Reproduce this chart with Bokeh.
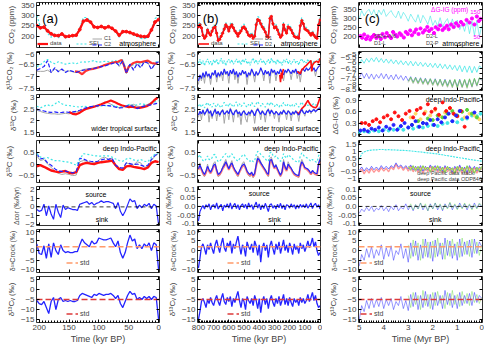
from bokeh.plotting import figure
from bokeh.layouts import gridplot
from bokeh.models import (Range1d, LinearAxis, FixedTicker, SingleIntervalTicker, Span, Label,
                          Legend, LegendItem, CustomJSTickFormatter)
from bokeh.core.properties import value
from bokeh.embed import file_html
from bokeh.resources import INLINE

FONT = "Liberation Sans"

# ---------------- column (a): 0-204 kyr BP ----------------
xa = [204, 198, 192, 186, 180, 174, 168, 162, 156, 150, 144, 138, 132, 126, 120, 114, 108, 102,
      96, 90, 84, 78, 72, 66, 60, 54, 48, 42, 36, 30, 24, 18, 12, 6, 0]
a_co2_data = [251, 240, 244, 226, 212, 204, 203, 211, 198, 200, 203, 205, 232, 272, 278, 268, 245, 242,
              247, 240, 246, 238, 225, 205, 222, 222, 218, 211, 205, 200, 198, 200, 230, 268, 280]
a_co2_sei = [300, 245, 248, 215, 195, 212, 190, 215, 192, 198, 200, 200, 240, 290, 290, 272, 248, 245,
             250, 242, 250, 240, 222, 195, 225, 225, 215, 205, 200, 190, 188, 192, 235, 285, 295]
a_co2_c1 = [250, 242, 246, 228, 210, 206, 200, 208, 199, 201, 202, 206, 236, 275, 278, 266, 246, 243,
            246, 241, 245, 236, 223, 206, 221, 223, 216, 210, 204, 198, 195, 194, 228, 266, 280]
a_co2_c2 = [248, 243, 245, 225, 208, 207, 198, 210, 197, 199, 201, 204, 234, 274, 280, 267, 244, 244,
            248, 239, 247, 237, 224, 204, 220, 224, 217, 209, 203, 197, 194, 196, 227, 265, 281]

a_d13co2_sei = [-6.60, -6.52, -6.40, -6.30, -6.42, -6.48, -6.40, -6.45, -6.50, -6.47, -6.45, -6.48,
                -6.42, -6.40, -6.42, -6.38, -6.35, -6.42, -6.40, -6.38, -6.40, -6.38, -6.35, -6.45,
                -6.30, -6.80, -6.50, -6.55, -6.45, -6.50, -6.38, -6.35, -6.50, -6.42, -6.38]
a_d13co2_c1 = [-6.80, -6.80, -6.80, -6.75, -6.85, -6.70, -6.78, -6.72, -6.80, -6.78, -6.82, -6.85,
               -6.78, -6.72, -6.70, -6.68, -6.65, -6.62, -6.58, -6.55, -6.50, -6.45, -6.40, -6.60,
               -6.35, -6.90, -6.55, -6.70, -6.50, -6.60, -6.42, -6.45, -6.70, -6.50, -6.42]
a_d13co2_c2 = [-6.75, -6.68, -6.60, -6.35, -6.85, -6.65, -6.82, -6.70, -6.85, -6.75, -6.80, -6.85,
               -6.80, -6.75, -6.72, -6.70, -6.68, -6.64, -6.60, -6.58, -6.52, -6.48, -6.42, -6.55,
               -6.36, -6.88, -6.50, -6.75, -6.48, -6.65, -6.40, -6.45, -6.72, -6.48, -6.40]
xa_d2 = [140, 134, 128, 122, 116, 110, 104, 98, 92, 86, 80, 74, 68, 62, 58, 54, 50, 46, 42, 36, 30,
         24, 18, 12, 6, 2]
a_d13co2_data = [-6.80, -6.82, -6.92, -6.78, -6.72, -6.70, -6.66, -6.62, -6.55, -6.50, -6.45, -6.42,
                 -6.40, -6.32, -6.55, -6.85, -6.60, -6.52, -6.45, -6.40, -6.42, -6.38, -6.35, -6.45,
                 -6.48, -6.45]

a_surf_sei = [2.62, 2.55, 2.62, 2.68, 2.62, 2.70, 2.82, 2.72, 2.66, 2.65, 2.62, 2.60, 2.58, 2.62,
              2.60, 2.58, 2.62, 2.60, 2.63, 2.65, 2.62, 2.66, 2.62, 2.58, 2.60, 2.66, 2.70, 2.64,
              2.68, 2.72, 2.70, 2.66, 2.72, 2.80, 2.85]
a_surf_c1 = [2.45, 2.40, 2.35, 2.32, 2.30, 2.30, 2.28, 2.30, 2.32, 2.30, 2.35, 2.38, 2.42, 2.48,
             2.52, 2.56, 2.60, 2.65, 2.70, 2.80, 2.75, 2.68, 2.60, 2.55, 2.58, 2.62, 2.66, 2.70,
             2.62, 2.60, 2.64, 2.70, 2.78, 2.88, 2.95]
a_surf_c2 = [2.50, 2.45, 2.42, 2.38, 2.36, 2.38, 2.35, 2.36, 2.38, 2.36, 2.38, 2.40, 2.45, 2.52,
             2.56, 2.60, 2.62, 2.64, 2.65, 2.66, 2.64, 2.62, 2.58, 2.55, 2.56, 2.62, 2.66, 2.60,
             2.52, 2.58, 2.62, 2.66, 2.68, 2.72, 2.75]
xa_d3 = [150, 144, 138, 132, 126, 120, 114, 108, 102, 96, 90, 84, 80, 74, 68, 62, 56, 50, 44, 38,
         32, 26, 20, 14, 8, 2]
a_surf_data = [2.38, 2.30, 2.28, 2.35, 2.45, 2.52, 2.56, 2.60, 2.65, 2.70, 2.76, 2.82, 2.86, 2.80,
               2.72, 2.66, 2.62, 2.58, 2.60, 2.56, 2.55, 2.58, 2.62, 2.70, 2.85, 2.98]

a_deep_sei = [0.45, 0.30, 0.25, 0.28, 0.20, 0.15, 0.15, 0.12, 0.10, 0.08, 0.02, -0.05, 0.20, 0.45,
              0.42, 0.40, 0.36, 0.35, 0.34, 0.36, 0.35, 0.30, 0.22, 0.15, 0.12, 0.22, 0.25, 0.18,
              0.15, 0.20, 0.12, 0.10, 0.30, 0.42, 0.50]
a_deep_data = [-0.10, -0.05, -0.12, -0.20, -0.28, -0.32, -0.35, -0.33, -0.30, -0.38, -0.40, -0.35,
               -0.05, 0.02, 0.05, 0.02, 0.00, 0.05, 0.08, 0.10, 0.12, 0.15, -0.05, -0.22, -0.25,
               -0.10, -0.08, -0.12, -0.15, -0.18, -0.22, -0.15, 0.05, 0.12, 0.08]
a_deep_c1 = [0.35, 0.15, 0.20, 0.00, -0.15, -0.30, -0.40, -0.45, -0.42, -0.45, -0.50, -0.48, 0.10,
             0.15, 0.12, 0.05, 0.05, 0.12, 0.25, 0.30, 0.20, 0.25, -0.10, -0.20, -0.25, 0.05, 0.00,
             -0.05, 0.10, 0.05, -0.15, -0.10, 0.15, 0.35, 0.45]
a_deep_c2 = [0.45, 0.22, 0.25, 0.05, -0.05, -0.20, -0.30, -0.32, -0.30, -0.35, -0.38, -0.35, 0.25,
             0.22, 0.15, 0.12, 0.10, 0.12, 0.18, 0.22, 0.20, 0.25, -0.05, -0.15, -0.18, 0.05, 0.02,
             -0.02, 0.00, -0.05, -0.10, -0.05, 0.20, 0.38, 0.45]

xa_f = [204, 200, 196, 192, 188, 184, 180, 176, 172, 168, 164, 160, 156, 152, 148, 144, 140, 136,
        132, 128, 124, 120, 116, 112, 108, 104, 100, 96, 92, 88, 84, 80, 76, 72, 68, 64, 60, 56, 52,
        48, 44, 40, 36, 32, 28, 24, 20, 16, 12, 8, 4, 0]
a_cor = [-0.3, -0.5, -0.4, 0.3, -1.0, 0.1, -0.8, -1.4, 0.3, -0.6, -1.2, 0.2, -0.3, -0.1, -0.2, -0.3,
         -0.3, -0.4, 0.3, 0.4, 0.5, 0.6, 0.3, 0.5, 0.2, 0.4, 0.5, 0.7, 0.5, 0.6, 0.6, 0.5, 0.4, -0.2,
         0.5, -0.5, -1.0, -0.5, 0.2, 0.9, 0.6, 0.7, -0.2, 0.2, -0.1, 0.3, 0.1, 0.4, -0.2, 0.3, 0.1, -2.0]
a_rock = [3.5, -1.5, -2.0, 2.5, -4.0, 3.5, -3.5, 4.0, 0.0, -2.0, 3.0, 0.0, -1.0, -0.5, -1.0, -1.0,
          -0.5, -0.5, 3.0, 6.0, 4.0, 3.0, 2.0, 5.0, 3.5, 4.0, 6.5, 6.0, 5.5, 5.5, 6.0, 6.5, 4.0, 2.0,
          5.0, -1.0, -4.0, -1.0, 4.0, 8.0, 5.0, 6.0, 1.0, 3.0, 1.0, 3.5, 2.0, 4.0, 0.0, 4.0, 3.0, -10.0]
a_cv = [-5.5, -7.0, -7.5, -6.0, -9.0, -12.0, -6.0, -4.0, -10.0, -5.0, -4.0, -6.0, -5.5, -6.0, -5.5,
        -6.0, -6.0, -5.5, -3.0, -2.0, -2.5, -3.0, -3.5, -4.0, -2.5, -3.0, -2.0, -2.5, -3.0, -2.5,
        -2.5, -2.0, -3.0, -4.5, -3.0, -7.0, -9.0, -6.0, -3.0, -1.0, -2.5, -2.0, -5.0, -4.0, -5.0,
        -3.5, -4.5, -3.5, -5.0, -3.5, -4.0, -15.0]

# ---------------- column (b): 0-800 kyr BP ----------------
xb = [800, 790, 780, 770, 760, 750, 740, 730, 720, 710, 700, 690, 680, 670, 660, 650, 640, 630, 620,
      610, 600, 590, 580, 570, 560, 550, 540, 530, 520, 510, 500, 490, 480, 470, 460, 450, 440, 430,
      420, 410, 400, 390, 380, 370, 360, 350, 340, 330, 320, 310, 300, 290, 280, 270, 260, 250, 240,
      230, 220, 210, 200, 190, 180, 170, 160, 150, 140, 130, 120, 110, 100, 90, 80, 70, 60, 50, 40,
      30, 20, 10, 0]
b_co2_data = [245, 255, 240, 205, 190, 200, 230, 215, 205, 225, 240, 245, 215, 180, 185, 200, 215, 235,
              255, 245, 225, 245, 255, 240, 225, 215, 200, 215, 225, 240, 245, 235, 220, 205, 200, 205,
              190, 200, 255, 280, 275, 260, 245, 235, 220, 200, 195, 285, 295, 260, 240, 245, 230, 210,
              195, 205, 255, 230, 215, 245, 240, 230, 215, 200, 195, 195, 190, 250, 275, 260, 235, 230,
              225, 215, 205, 215, 205, 195, 190, 255, 278]
b_co2_sei = [260, 270, 250, 215, 195, 210, 240, 220, 215, 240, 255, 250, 225, 190, 195, 215, 225, 250,
             265, 255, 235, 260, 268, 250, 235, 225, 210, 228, 240, 255, 258, 245, 230, 215, 210, 220,
             200, 215, 270, 295, 290, 272, 258, 248, 230, 210, 205, 298, 302, 270, 252, 258, 240, 222,
             205, 218, 268, 242, 228, 258, 252, 242, 225, 212, 205, 205, 198, 265, 290, 272, 248, 242,
             238, 225, 215, 228, 215, 200, 192, 268, 290]
b_co2_d1 = [240, 250, 235, 200, 188, 198, 225, 212, 202, 222, 236, 240, 212, 178, 184, 198, 212, 232,
            250, 242, 222, 242, 250, 236, 222, 212, 198, 212, 222, 236, 240, 232, 218, 202, 198, 202,
            188, 198, 250, 275, 272, 256, 242, 232, 218, 198, 192, 280, 290, 256, 238, 242, 228, 208,
            192, 202, 250, 228, 212, 242, 236, 228, 212, 198, 192, 192, 186, 245, 272, 256, 232, 228,
            222, 212, 202, 212, 202, 192, 186, 250, 275]
b_co2_d2 = [242, 252, 238, 204, 192, 202, 228, 214, 206, 224, 238, 243, 216, 182, 186, 201, 214, 234,
            252, 244, 226, 244, 252, 238, 226, 214, 202, 214, 224, 238, 243, 234, 221, 206, 201, 204,
            191, 201, 252, 278, 274, 258, 244, 234, 221, 201, 196, 282, 292, 258, 240, 244, 230, 210,
            196, 204, 252, 230, 214, 244, 238, 230, 214, 200, 196, 194, 190, 248, 274, 258, 234, 230,
            224, 214, 204, 214, 204, 194, 190, 252, 278]

b_d13co2_sei = [-6.45, -6.30, -6.50, -6.35, -6.55, -6.40, -6.28, -6.50, -6.38, -6.55,
                -6.32, -6.45, -6.30, -6.52, -6.40, -6.25, -6.48, -6.35, -6.55, -6.38,
                -6.30, -6.45, -6.32, -6.50, -6.40, -6.28, -6.45, -6.35, -6.52, -6.30,
                -6.42, -6.28, -6.48, -6.38, -6.55, -6.35, -6.25, -6.45, -6.32, -6.50,
                -6.38, -6.28, -6.45, -6.35, -6.52, -6.40, -6.30, -6.48, -6.25, -6.42,
                -6.35, -6.50, -6.30, -6.45, -6.38, -6.55, -6.32, -6.42, -6.28, -6.48,
                -6.35, -6.50, -6.40, -6.30, -6.45, -6.38, -6.52, -6.35, -6.28, -6.42,
                -6.38, -6.45, -6.30, -6.40, -6.35, -6.48, -6.38, -6.42, -6.35, -6.30, -6.25]
b_d13co2_d2 = [-7.20, -6.95, -7.10, -6.85, -7.05, -6.80, -7.00, -6.90, -7.10, -6.85,
               -6.95, -6.75, -7.05, -6.85, -7.00, -6.80, -6.95, -6.70, -6.90, -6.80,
               -7.00, -6.75, -6.90, -6.70, -6.95, -6.80, -7.05, -6.85, -6.95, -6.75,
               -6.90, -6.80, -7.05, -6.85, -6.95, -6.70, -6.85, -7.00, -6.80, -6.95,
               -6.85, -6.65, -6.80, -6.95, -6.75, -6.90, -6.80, -7.00, -6.70, -6.85,
               -6.75, -6.95, -6.80, -6.90, -6.70, -6.85, -6.95, -6.75, -6.85, -6.70,
               -6.80, -6.90, -6.75, -6.85, -6.70, -6.90, -6.80, -6.95, -6.75, -6.70,
               -6.80, -6.65, -6.75, -6.70, -6.60, -6.75, -6.65, -6.80, -6.70, -6.60, -6.55]
b_d13co2_d1 = [-7.35, -6.98, -7.20, -6.88, -7.30, -6.82, -7.05, -6.92, -7.35, -6.88,
               -6.98, -6.78, -7.25, -6.88, -7.05, -6.82, -7.20, -6.72, -6.95, -6.85,
               -7.30, -6.78, -6.92, -6.72, -7.15, -6.82, -7.30, -6.88, -6.98, -6.78,
               -6.92, -6.82, -7.35, -6.88, -7.00, -6.72, -6.88, -7.25, -6.82, -6.98,
               -6.88, -6.68, -6.82, -7.20, -6.78, -6.92, -6.82, -7.30, -6.72, -6.88,
               -6.78, -7.20, -6.82, -6.92, -6.72, -6.88, -7.20, -6.78, -6.88, -6.72,
               -6.82, -7.15, -6.78, -6.88, -6.72, -7.10, -6.82, -7.25, -6.78, -6.72,
               -6.82, -6.68, -6.78, -6.72, -6.62, -6.78, -6.68, -7.00, -6.72, -6.62, -6.58]
xb_d2a = [265, 260, 255, 250, 245, 240]
b_d13co2_data_a = [-6.95, -7.25, -6.85, -7.10, -6.80, -6.70]
xb_d2b = [150, 140, 130, 120, 110, 100, 90, 80, 70, 60, 55, 50, 40, 30, 20, 10, 0]
b_d13co2_data_b = [-6.80, -6.85, -6.90, -6.72, -6.68, -6.60, -6.55, -6.48, -6.42, -6.35, -6.80,
                   -6.55, -6.45, -6.40, -6.38, -6.45, -6.25]

b_surf_sei = [2.62, 2.72, 2.58, 2.68, 2.55, 2.70, 2.78, 2.62, 2.70, 2.58,
              2.75, 2.65, 2.58, 2.72, 2.62, 2.55, 2.68, 2.78, 2.65, 2.72,
              2.60, 2.75, 2.66, 2.58, 2.70, 2.80, 2.62, 2.72, 2.60, 2.68,
              2.76, 2.65, 2.58, 2.70, 2.62, 2.78, 2.68, 2.60, 2.72, 2.82,
              2.70, 2.62, 2.74, 2.66, 2.58, 2.70, 2.78, 2.64, 2.80, 2.68,
              2.60, 2.72, 2.66, 2.58, 2.70, 2.62, 2.78, 2.68, 2.60, 2.72,
              2.66, 2.58, 2.70, 2.62, 2.75, 2.65, 2.58, 2.70, 2.80, 2.66,
              2.62, 2.70, 2.65, 2.72, 2.62, 2.68, 2.74, 2.66, 2.70, 2.78, 2.85]
b_surf_d2 = [2.25, 2.40, 2.30, 2.45, 2.28, 2.38, 2.50, 2.32, 2.42, 2.20,
             2.35, 2.48, 2.30, 2.40, 2.25, 2.38, 2.45, 2.28, 2.35, 2.42,
             2.30, 2.50, 2.35, 2.25, 2.40, 2.45, 2.30, 2.38, 2.22, 2.35,
             2.42, 2.30, 2.25, 2.38, 2.30, 2.45, 2.35, 2.22, 2.40, 2.50,
             2.38, 2.28, 2.42, 2.32, 2.25, 2.40, 2.48, 2.30, 2.45, 2.35,
             2.28, 2.40, 2.32, 2.25, 2.38, 2.30, 2.45, 2.35, 2.28, 2.42,
             2.35, 2.25, 2.38, 2.30, 2.42, 2.32, 2.25, 2.38, 2.48, 2.35,
             2.30, 2.42, 2.35, 2.45, 2.38, 2.42, 2.48, 2.40, 2.45, 2.50, 2.55]
b_surf_d1 = [2.15, 2.42, 2.05, 2.48, 2.22, 2.40, 2.55, 1.95, 2.45, 2.10,
             2.38, 2.52, 2.00, 2.42, 2.18, 2.40, 2.50, 1.90, 2.38, 2.45,
             2.05, 2.55, 2.38, 1.95, 2.42, 2.50, 2.15, 2.40, 1.85, 2.38,
             2.45, 2.10, 1.95, 2.40, 2.20, 2.48, 2.38, 1.90, 2.42, 2.55,
             2.40, 2.05, 2.45, 2.35, 1.95, 2.42, 2.52, 2.20, 2.48, 2.38,
             2.10, 2.42, 2.35, 1.95, 2.40, 2.25, 2.48, 2.38, 2.05, 2.45,
             2.38, 2.00, 2.40, 2.25, 2.45, 2.35, 1.98, 2.40, 2.52, 2.38,
             2.20, 2.45, 2.38, 2.48, 2.30, 2.45, 2.52, 2.35, 2.48, 2.55, 2.60]
xb_d3 = [150, 140, 130, 120, 110, 100, 90, 80, 70, 60, 50, 40, 30, 20, 10, 0]
b_surf_data = [2.38, 2.28, 2.40, 2.52, 2.58, 2.65, 2.76, 2.86, 2.74, 2.65, 2.60, 2.58, 2.55, 2.62,
               2.80, 2.98]

b_deep_sei = [0.30, 0.40, 0.25, 0.15, 0.12, 0.22, 0.35, 0.20, 0.18, 0.28,
              0.40, 0.42, 0.22, 0.10, 0.12, 0.20, 0.30, 0.38, 0.45, 0.35,
              0.25, 0.38, 0.45, 0.32, 0.25, 0.18, 0.12, 0.22, 0.30, 0.38,
              0.42, 0.32, 0.22, 0.15, 0.12, 0.18, 0.10, 0.15, 0.40, 0.55,
              0.50, 0.42, 0.35, 0.30, 0.22, 0.15, 0.12, 0.48, 0.52, 0.38,
              0.30, 0.35, 0.28, 0.18, 0.12, 0.20, 0.45, 0.32, 0.25, 0.40,
              0.35, 0.30, 0.22, 0.15, 0.12, 0.10, 0.08, 0.35, 0.48, 0.40,
              0.30, 0.28, 0.25, 0.18, 0.12, 0.20, 0.15, 0.10, 0.08, 0.35, 0.50]
b_deep_data = [-0.25, -0.10, -0.25, -0.40, -0.50, -0.38, -0.15, -0.32, -0.40, -0.28,
               -0.10, -0.05, -0.30, -0.50, -0.45, -0.35, -0.20, -0.10, 0.05, -0.10,
               -0.25, -0.12, 0.00, -0.18, -0.30, -0.40, -0.50, -0.35, -0.22, -0.10,
               -0.05, -0.18, -0.35, -0.45, -0.50, -0.40, -0.55, -0.45, -0.10, 0.20,
               0.12, 0.00, -0.10, -0.20, -0.30, -0.42, -0.50, 0.10, 0.15, -0.05,
               -0.20, -0.10, -0.25, -0.40, -0.52, -0.38, 0.05, -0.18, -0.30, -0.05,
               -0.15, -0.22, -0.35, -0.45, -0.50, -0.52, -0.55, -0.15, 0.05, -0.05,
               -0.20, -0.22, -0.28, -0.35, -0.45, -0.32, -0.40, -0.45, -0.48, -0.05, 0.10]
b_deep_d2 = [-0.20, -0.05, -0.20, -0.35, -0.45, -0.30, -0.10, -0.25, -0.35, -0.22,
             -0.05, 0.00, -0.25, -0.45, -0.40, -0.30, -0.15, -0.05, 0.10, -0.05,
             -0.20, -0.05, 0.05, -0.12, -0.25, -0.35, -0.45, -0.30, -0.15, -0.05,
             0.00, -0.12, -0.30, -0.40, -0.45, -0.35, -0.50, -0.40, -0.05, 0.25,
             0.18, 0.05, -0.05, -0.15, -0.25, -0.38, -0.45, 0.15, 0.20, 0.00,
             -0.15, -0.05, -0.20, -0.35, -0.48, -0.32, 0.10, -0.12, -0.25, 0.00,
             -0.10, -0.18, -0.30, -0.40, -0.45, -0.48, -0.50, -0.10, 0.10, 0.00,
             -0.15, -0.18, -0.22, -0.30, -0.40, -0.28, -0.35, -0.40, -0.42, 0.00, 0.20]
b_deep_d1 = [-0.15, 0.05, -0.25, -0.45, -0.55, -0.35, 0.00, -0.30, -0.40, -0.20,
             0.05, 0.10, -0.30, -0.55, -0.50, -0.35, -0.10, 0.05, 0.20, 0.00,
             -0.25, 0.00, 0.15, -0.15, -0.30, -0.45, -0.55, -0.35, -0.15, 0.05,
             0.10, -0.15, -0.35, -0.50, -0.55, -0.40, -0.60, -0.45, 0.05, 0.35,
             0.25, 0.10, -0.05, -0.20, -0.30, -0.45, -0.55, 0.25, 0.30, 0.05,
             -0.15, 0.00, -0.25, -0.40, -0.55, -0.35, 0.20, -0.15, -0.30, 0.10,
             -0.05, -0.20, -0.35, -0.45, -0.52, -0.55, -0.58, 0.00, 0.20, 0.05,
             -0.15, -0.20, -0.25, -0.35, -0.45, -0.30, -0.40, -0.45, -0.50, 0.05, 0.30]

b_cor = [-0.085, -0.030, -0.010, 0.005, -0.015, 0.010, -0.005, 0.015, -0.020, 0.005,
         0.010, -0.010, 0.020, -0.015, 0.000, 0.012, -0.025, 0.008, -0.005, 0.015,
         -0.010, 0.020, -0.015, 0.005, 0.018, -0.012, 0.010, -0.020, 0.005, 0.015,
         -0.008, 0.012, -0.015, 0.020, -0.005, 0.010, -0.018, 0.005, 0.025, -0.010,
         0.015, -0.020, 0.008, -0.012, 0.018, -0.005, -0.030, 0.010, 0.015, -0.010,
         0.005, -0.015, 0.012, -0.008, 0.018, -0.012, 0.008, -0.020, 0.010, 0.005,
         -0.010, 0.015, -0.005, 0.010, -0.015, 0.008, -0.010, 0.012, -0.005, 0.010,
         -0.008, 0.015, -0.010, 0.005, 0.020, -0.012, 0.008, 0.018, -0.005, 0.010, -0.015]
b_rock = [-9.0, -4.0, 2.0, 3.5, 1.0, -2.0, 3.0, 0.5, 4.0, 1.0,
          -1.5, 3.0, 5.5, 2.0, -1.0, 3.5, 6.5, 1.5, -0.5, 4.0,
          2.0, 5.0, -1.5, 3.5, 1.0, 4.5, 7.5, 2.5, -2.0, 3.0,
          1.5, -3.0, 4.5, 2.0, 0.5, 3.5, -1.0, 5.0, 2.5, -2.5,
          3.0, -6.0, 1.5, 4.0, 0.0, 3.0, -3.5, 2.5, 5.0, 1.0,
          -2.0, 3.5, 0.5, 4.5, -1.5, 2.0, 5.5, 0.0, 3.0, -1.0,
          4.0, 1.5, -2.0, 3.5, 0.5, 2.5, -1.5, 4.0, 1.0, 3.0,
          -0.5, 2.0, 5.0, 1.5, 3.5, 6.5, 2.0, 4.5, 0.0, -2.5, -1.0]
b_cv = [-15.0, -11.0, -6.0, -4.5, -6.5, -9.0, -5.0, -7.0, -4.0, -6.5,
        -8.0, -5.0, -3.0, -6.0, -8.0, -4.5, -2.0, -6.0, -7.5, -4.0,
        -6.0, -3.5, -8.5, -4.5, -6.5, -3.5, -1.0, -5.5, -9.0, -4.5,
        -6.0, -10.0, -3.5, -5.5, -7.0, -4.5, -8.0, -3.0, -5.5, -9.5,
        -4.5, -11.5, -6.0, -3.5, -7.5, -4.5, -9.5, -5.0, -3.0, -6.5,
        -8.5, -4.5, -7.0, -3.5, -8.0, -5.5, -2.5, -7.5, -4.5, -8.0,
        -4.0, -6.5, -8.5, -4.5, -6.5, -5.0, -8.0, -4.0, -6.5, -4.5,
        -7.0, -5.5, -2.5, -6.0, -4.0, -1.5, -5.5, -3.0, -7.0, -9.0, -8.0]

# ---------------- column (c): 0-5 Myr BP ----------------
xc = [5.0, 4.9, 4.8, 4.7, 4.6, 4.5, 4.4, 4.3, 4.2, 4.1, 4.0, 3.9, 3.8, 3.7, 3.6, 3.5, 3.4, 3.3, 3.2,
      3.1, 3.0, 2.9, 2.8, 2.7, 2.6, 2.5, 2.4, 2.3, 2.2, 2.1, 2.0, 1.9, 1.8, 1.7, 1.6, 1.5, 1.4, 1.3,
      1.2, 1.1, 1.0, 0.9, 0.8, 0.7, 0.6, 0.5, 0.4, 0.3, 0.2, 0.1, 0.0]
xc3 = [3.0, 2.9, 2.8, 2.7, 2.6, 2.5, 2.4, 2.3, 2.2, 2.1, 2.0, 1.9, 1.8, 1.7, 1.6, 1.5, 1.4, 1.3, 1.2,
       1.1, 1.0, 0.9, 0.8, 0.7, 0.6, 0.5, 0.4, 0.3, 0.2, 0.1, 0.0]
c_co2_sei = [300, 345, 315, 338, 352, 320, 350, 310, 348, 322, 352, 312, 330, 345, 318, 305, 342, 300,
             335, 315, 285, 325, 300, 280, 322, 275, 318, 295, 268, 315, 262, 290, 258, 305, 255, 280,
             300, 250, 298, 245, 292, 238, 270, 228, 288, 215, 285, 205, 290, 200, 260]
c_dg_x = [4.95, 4.88, 4.80, 4.72, 4.65, 4.55, 4.48, 4.40, 4.30, 4.22, 4.12, 4.05, 3.95, 3.88, 3.78,
          3.70, 3.62, 3.52, 3.45, 3.35, 3.28, 3.18, 3.10, 3.02, 2.92, 2.85, 2.75, 2.68, 2.58, 2.50,
          2.40, 2.32, 2.22, 2.15, 2.05, 1.95, 1.88, 1.78, 1.70, 1.60, 1.52, 1.42, 1.35, 1.25, 1.15,
          1.05, 0.95, 0.85, 0.75, 0.62, 0.50, 0.40, 0.30, 0.20, 0.12, 0.05]
c_dg_y = [52, 45, 58, 40, 50, 38, 48, 56, 44, 52, 40, 60, 47, 64, 52, 44, 68, 57, 50, 63,
          56, 46, 68, 60, 74, 55, 67, 78, 60, 82, 66, 75, 88, 72, 80, 64, 87, 79, 94, 76,
          84, 93, 79, 98, 88, 103, 93, 108, 98, 116, 106, 122, 98, 130, 112, 120]
dg_ticks = [50, 150]

c_d13co2_sei = [-6.20, -5.70, -6.05, -5.60, -5.95, -5.55, -5.90, -5.50, -5.95, -5.60,
                -6.00, -5.65, -6.05, -5.70, -6.10, -5.75, -6.15, -5.80, -6.20, -5.85,
                -6.25, -5.85, -6.30, -5.90, -6.30, -5.95, -6.35, -6.00, -6.40, -6.05,
                -6.45, -6.05, -6.50, -6.10, -6.55, -6.15, -6.60, -6.20, -6.65, -6.25,
                -6.75, -6.25, -6.85, -6.30, -6.90, -6.30, -6.95, -6.35, -6.90, -6.30, -6.50]
c_d13co2_d2p = [-7.40, -6.95, -7.45, -7.00, -7.50, -7.05, -7.55, -7.10, -7.45, -7.00,
                -7.50, -7.05, -7.55, -7.15, -7.60, -7.10, -7.55, -7.20, -7.65, -7.25,
                -7.70, -7.30, -7.80, -7.35, -7.85, -7.40, -7.90, -7.45, -7.95, -7.50,
                -8.00, -7.50, -8.05, -7.55, -8.10, -7.55, -8.10, -7.60, -8.15, -7.60,
                -8.20, -7.55, -8.25, -7.60, -8.20, -7.55, -8.25, -7.50, -8.15, -7.45, -7.60]
c_d13co2_d2l = [-7.75, -7.35, -7.85, -7.40, -7.90, -7.45, -7.95, -7.50, -8.00, -7.50,
                -8.05, -7.55, -8.10, -7.55, -8.15, -7.60, -8.20, -7.60, -8.25, -7.55,
                -8.30, -7.60, -8.25, -7.55, -8.30, -7.50, -8.20, -7.45, -8.10, -7.40, -7.55]
c_d13co2_d1l = [-7.85, -7.45, -7.95, -7.50, -8.00, -7.55, -8.05, -7.60, -8.10, -7.60,
                -8.15, -7.65, -8.20, -7.65, -8.25, -7.70, -8.30, -7.70, -8.35, -7.65,
                -8.40, -7.70, -8.35, -7.65, -8.40, -7.60, -8.30, -7.55, -8.20, -7.50, -7.65]

c_red_x = [4.9, 4.75, 4.6, 4.45, 4.3, 4.15, 4.0, 3.85, 3.7, 3.55, 3.4, 3.25, 3.1, 2.95, 2.8, 2.65,
           2.5, 2.35, 2.2, 2.05, 1.9, 1.75, 1.6, 1.45, 1.3, 1.15, 1.0, 0.85, 0.7]
c_red_y = [0.30, 0.30, 0.25, 0.35, 0.40, 0.32, 0.45, 0.50, 0.40, 0.58, 0.48, 0.38, 0.55, 0.62, 0.45,
           0.65, 0.70, 0.55, 0.80, 0.60, 0.68, 0.52, 0.85, 0.62, 0.70, 0.55, 0.48, 0.62, 0.20]
c_blue_x = [4.95, 4.8, 4.65, 4.5, 4.35, 4.2, 4.05, 3.9, 3.75, 3.6, 3.45, 3.3, 3.15, 3.0, 2.85, 2.7,
            2.55, 2.4, 2.25, 2.1, 1.95, 1.8, 1.65, 1.5, 1.35, 1.2, 1.05, 0.9, 0.6, 0.3]
c_blue_y = [0.10, 0.12, 0.08, 0.15, 0.12, 0.18, 0.10, 0.20, 0.15, 0.25, 0.12, 0.22, 0.30, 0.18, 0.25,
            0.35, 0.20, 0.30, 0.28, 0.38, 0.25, 0.40, 0.32, 0.45, 0.55, 0.35, 0.50, 0.62, 0.45, 0.58]
c_yel_x = [2.9, 2.7, 2.5, 2.3, 2.1, 1.9, 1.7, 1.5, 1.3, 1.1, 0.9, 0.7, 0.5, 0.3, 0.1]
c_yel_y = [0.45, 0.55, 0.40, 0.60, 0.50, 0.65, 0.48, 0.58, 0.70, 0.52, 0.62, 0.45, 0.55, 0.50, 0.40]
c_grn_x = [2.85, 2.6, 2.4, 2.2, 2.0, 1.8, 1.6, 1.4, 1.2, 1.0, 0.8, 0.6, 0.4, 0.2]
c_grn_y = [0.25, 0.35, 0.30, 0.42, 0.38, 0.50, 0.45, 0.55, 0.62, 0.50, 0.60, 0.65, 0.55, 0.45]
c_cyn_x = [5.0, 4.8, 4.6, 4.4, 4.2, 4.0, 3.8, 3.6, 3.4, 3.2, 3.0, 2.8, 2.6, 2.4, 2.2, 2.0, 1.8, 1.6,
           1.4, 1.2, 1.0, 0.8, 0.6, 0.4, 0.2, 0.05]
c_cyn_y = [0.05, 0.08, 0.06, 0.10, 0.08, 0.12, 0.10, 0.12, 0.15, 0.12, 0.18, 0.15, 0.20, 0.18, 0.22,
           0.25, 0.22, 0.28, 0.30, 0.35, 0.32, 0.40, 0.42, 0.50, 0.48, 0.55]

c_deep_sei = [0.40, 0.80, 0.95, 1.02, 1.05, 1.08, 1.10, 1.10, 1.12, 1.12, 1.12, 1.10, 1.12, 1.10,
              1.10, 1.08, 1.08, 1.06, 1.06, 1.05, 1.04, 1.02, 1.00, 0.98, 0.96, 0.95, 0.92, 0.90,
              0.88, 0.86, 0.84, 0.82, 0.80, 0.76, 0.74, 0.70, 0.68, 0.64, 0.62, 0.58, 0.55, 0.52,
              0.50, 0.46, 0.44, 0.40, 0.38, 0.35, 0.32, 0.30, 0.28]
c_deep_odp = [-0.55, -0.30, -0.65, -0.35, -0.60, -0.25, -0.55, -0.30, -0.50, -0.20,
              -0.45, -0.25, -0.50, -0.15, -0.35, 0.05, -0.30, -0.10, -0.40, -0.15,
              -0.45, -0.10, -0.50, -0.20, -0.55, -0.15, -0.60, -0.20, -0.50, -0.10,
              -0.45, -0.15, -0.55, -0.20, -0.60, -0.15, -0.50, -0.25, -0.65, -0.20,
              -0.55, -0.10, -0.60, -0.25, -0.70, -0.15, -0.55, -0.20, -0.60, -0.25, -0.35]
c_deep_d2p = [-0.40, -0.15, -0.45, -0.20, -0.40, -0.10, -0.35, -0.15, -0.35, -0.05,
              -0.30, -0.10, -0.30, -0.05, -0.20, 0.15, -0.15, 0.00, -0.25, -0.05,
              -0.30, 0.00, -0.35, -0.10, -0.40, -0.05, -0.45, -0.10, -0.35, 0.00,
              -0.30, -0.05, -0.40, -0.10, -0.45, -0.05, -0.35, -0.15, -0.50, -0.10,
              -0.40, 0.00, -0.45, -0.15, -0.55, -0.05, -0.40, -0.10, -0.45, -0.15, -0.25]
c_deep_d2l = [-0.10, -0.35, -0.05, -0.40, -0.10, -0.45, -0.05, -0.35, -0.15, -0.50,
              -0.10, -0.40, -0.05, -0.45, -0.15, -0.55, -0.10, -0.40, -0.20, -0.60,
              -0.10, -0.45, -0.15, -0.55, -0.05, -0.50, -0.20, -0.60, -0.15, -0.45, -0.10]
c_deep_stack = [-0.15, -0.30, -0.10, -0.35, -0.15, -0.40, -0.10, -0.30, -0.20, -0.45,
                -0.15, -0.35, -0.10, -0.40, -0.20, -0.50, -0.15, -0.35, -0.25, -0.55,
                -0.15, -0.40, -0.20, -0.50, -0.10, -0.45, -0.25, -0.55, -0.20, -0.40, -0.15]
c_deep_d1l = [-0.20, -0.45, -0.15, -0.50, -0.20, -0.55, -0.15, -0.45, -0.25, -0.60,
              -0.20, -0.50, -0.15, -0.55, -0.25, -0.65, -0.20, -0.50, -0.30, -0.70,
              -0.20, -0.55, -0.25, -0.65, -0.15, -0.60, -0.30, -0.70, -0.25, -0.55, -0.20]

c_cor = [-0.040, -0.015, -0.030, -0.005, -0.025, 0.000, -0.030, -0.010, -0.020, 0.005,
         -0.025, -0.005, -0.030, 0.000, -0.020, 0.010, -0.025, -0.005, -0.015, 0.015,
         -0.020, 0.005, -0.025, 0.010, -0.015, 0.020, -0.020, 0.005, -0.025, 0.015,
         -0.015, 0.020, -0.020, 0.010, -0.025, 0.015, -0.010, 0.020, -0.020, 0.010,
         -0.015, 0.020, -0.010, 0.015, -0.020, 0.010, -0.015, 0.020, -0.010, 0.015, 0.000]
c_cor_l = [-0.010, 0.015, -0.020, 0.010, -0.015, 0.020, -0.010, 0.015, -0.025, 0.010,
           -0.015, 0.020, -0.010, 0.015, -0.020, 0.010, -0.015, 0.025, -0.010, 0.015,
           -0.020, 0.010, -0.015, 0.020, -0.010, 0.015, -0.020, 0.010, -0.015, 0.020, 0.005]
c_rock = [-8.0, -2.0, -5.0, 1.0, -3.5, 2.0, -4.0, 0.5, -2.5, 3.0,
          -4.5, 1.5, -3.0, 2.5, -5.0, 0.0, -2.0, 3.5, -4.0, 1.0,
          -6.0, 4.0, -3.0, 5.0, -5.0, 3.0, -4.0, 6.0, -3.5, 4.5,
          -5.5, 5.5, -3.0, 4.0, -4.5, 6.5, -2.5, 5.0, -4.0, 3.5,
          -5.0, 6.0, -3.0, 4.5, -2.0, 5.5, -3.5, 6.0, -1.5, 4.5, 2.0]
c_rock_l = [3.0, -4.0, 5.5, -2.5, 4.0, -5.0, 6.0, -3.0, 4.5, -4.0, 5.0, -3.5, 6.5, -2.0, 4.0, -4.5,
            5.5, -3.0, 6.0, -2.5, 4.5, -3.5, 6.5, -2.0, 5.0, -3.0, 6.0, -1.5, 4.5, -2.5, 3.0]
c_cv = [-15.0, -8.0, -11.0, -5.5, -9.5, -4.5, -9.0, -5.0, -8.5, -4.0,
        -9.5, -5.0, -8.0, -4.5, -10.0, -6.0, -8.0, -3.5, -9.5, -5.5,
        -10.5, -2.5, -8.5, -1.5, -10.0, -3.0, -9.0, -1.0, -8.5, -2.5,
        -10.0, -1.5, -8.0, -3.0, -9.5, -0.5, -7.5, -2.0, -9.0, -3.0,
        -9.5, -1.5, -8.0, -3.0, -7.0, -2.0, -8.0, -1.5, -6.5, -3.0, -4.5]
c_cv_l = [-3.0, -9.0, -1.5, -7.5, -3.0, -10.0, -0.5, -8.0, -2.5, -9.5, -1.5, -8.0, -1.0, -7.0, -3.0,
          -9.5, -1.5, -8.0, -0.5, -7.5, -2.5, -8.5, -1.0, -7.0, -2.0, -8.0, -1.0, -6.5, -2.5, -7.0,
          -4.0]

rock_std = 2.0
cv_std = -5.0
cor_zero = 0.0

# ---------------- layout / style ----------------
RED, CYAN, BLUE, GRAY = "#ff1010", "#3fe6e6", "#2323ff", "#a6a6a6"
GREEN, YELLOW, PINK, MAGENTA = "#5ad63a", "#ffd866", "#ff6a6a", "#ff00ff"
ORANGE, DRED = "#ff9a6a", "#dd3a3a"

COL_W = [161, 161, 162]
FRAME_H = [49, 43, 46, 46, 43, 47, 46]
LEFT, RIGHT, TOPB, BOTB = 36, 2, 2, 25
X_RANGES = [(204.5, -1.5), (806, -3), (5.03, -0.03)]
X_INT = [50, 100, 1]
X_TITLES = ["Time (kyr BP)", "Time (kyr BP)", "Time (Myr BP)"]
xr = [Range1d(*r) for r in X_RANGES]
blank = CustomJSTickFormatter(code="return ''")

Y_LABELS = ["CO\u2082 (ppm)", "\u03b4\u00b9\u00b3CO\u2082 (\u2030)", "\u03b4\u00b9\u00b3C (\u2030)",
            "\u03b4\u00b9\u00b3C (\u2030)", "\u0394cor (\u2030/kyr)", "\u03b4\u00b9\u00b3Crock (\u2030)",
            "\u03b4\u00b9\u00b3C\u1d65 (\u2030)"]
Y_LABEL_SIZE = ["8px", "7.5px", "8px", "8px", "6.8px", "7px", "8px"]


def make(row, col, yr, yt, ylab, overrides=None):
    top = TOPB if row == 0 else 0
    bot = BOTB if row == 6 else 0
    p = figure(width=COL_W[col], height=FRAME_H[row] + top + bot, x_range=xr[col],
               y_range=Range1d(*yr), output_backend="svg", toolbar_location=None, title=None,
               x_axis_location=None, y_axis_location=None,
               min_border_left=LEFT, min_border_right=RIGHT, min_border_top=top, min_border_bottom=bot)
    p.grid.visible = False
    p.outline_line_color = "black"
    p.outline_line_width = 0.8
    yl = LinearAxis(ticker=FixedTicker(ticks=yt), axis_label=ylab, axis_label_text_font=FONT,
                    axis_label_text_font_size=Y_LABEL_SIZE[row], axis_label_text_font_style="normal",
                    axis_label_standoff=2, major_label_text_font=FONT, major_label_text_font_size="8px",
                    major_label_standoff=2, major_tick_in=3, major_tick_out=0,
                    minor_tick_line_color=None, axis_line_color=None)
    if overrides:
        yl.major_label_overrides = overrides
    p.add_layout(yl, "left")
    yrx = LinearAxis(ticker=FixedTicker(ticks=yt), formatter=blank, major_label_text_font_size="0px",
                     major_label_standoff=0, major_tick_in=3, major_tick_out=0,
                     minor_tick_line_color=None, axis_line_color=None)
    p.add_layout(yrx, "right")
    xt = SingleIntervalTicker(interval=X_INT[col], num_minor_ticks=10)
    if row == 6:
        xbx = LinearAxis(ticker=xt, axis_label=X_TITLES[col], axis_label_text_font=FONT,
                         axis_label_text_font_size="9px", axis_label_text_font_style="normal",
                         axis_label_standoff=1, major_label_text_font=FONT,
                         major_label_text_font_size="8px", major_label_standoff=2,
                         major_tick_in=3, major_tick_out=0, minor_tick_in=2, minor_tick_out=0,
                         axis_line_color=None)
    else:
        xbx = LinearAxis(ticker=xt, formatter=blank, major_label_text_font_size="0px",
                         major_label_standoff=0, major_tick_in=3, major_tick_out=0,
                         minor_tick_line_color=None, axis_line_color=None)
    p.add_layout(xbx, "below")
    xax = LinearAxis(ticker=xt, formatter=blank, major_label_text_font_size="0px",
                     major_label_standoff=0, major_tick_in=3, major_tick_out=0,
                     minor_tick_in=2 if row == 0 else 0, minor_tick_out=0, axis_line_color=None)
    if row != 0:
        xax.minor_tick_line_color = None
    p.add_layout(xax, "above")
    return p


def ln(p, x, y, color, w=1.0, dash="solid", alpha=1.0, **kw):
    return p.line(x=x, y=y, line_color=color, line_width=w, line_dash=dash, line_alpha=alpha, **kw)


def txt(p, x, y, s, size="7px", align="right", base="middle", color="black", **kw):
    p.add_layout(Label(x=x, y=y, text=s, text_font=FONT, text_font_size=size, text_align=align,
                       text_baseline=base, text_color=color, **kw))


def legend(p, items, loc, orientation="vertical", size="6px", glyph_w=11, label_w=None, spacing=3):
    leg = Legend(items=[LegendItem(label=value(lbl), renderers=rs) for lbl, rs in items],
                 location=loc, orientation=orientation, label_text_font=FONT,
                 label_text_font_size=size, glyph_width=glyph_w, glyph_height=5, label_height=5,
                 label_standoff=2, spacing=spacing, padding=0, margin=0, background_fill_alpha=0,
                 border_line_alpha=0)
    if label_w:
        leg.label_width = label_w
    p.add_layout(leg)


grid = [[None] * 3 for _ in range(7)]
CO2_T = [200, 250, 300, 350]
COR_OV = {-0.1: "-0.1", -0.05: "-0.05", 0: "0.0", 0.05: "0.05", 0.1: "0.1"}

# ---- row 0: CO2 ----
for col, (xx, dat, sei, m1, m2, lab1, lab2, tag) in enumerate([
        (xa, a_co2_data, a_co2_sei, a_co2_c1, a_co2_c2, "C1", "C2", "(a)"),
        (xb, b_co2_data, b_co2_sei, b_co2_d1, b_co2_d2, "D1", "D2", "(b)")]):
    p = make(0, col, (146, 362), CO2_T, Y_LABELS[0])
    g = ln(p, xx, m1, GRAY, 1.0)
    bl = ln(p, xx, m2, BLUE, 1.2, "4 2")
    cy = ln(p, xx, sei, CYAN, 1.2, "2 2")
    rd = ln(p, xx, dat, RED, 2.2 if col == 0 else 1.6)
    rs = p.scatter(x=xx, y=dat, size=2.8 if col == 0 else 2.2, color=RED)
    legend(p, [("data", [rd]), ("SEI", [cy])], (1, 1), "horizontal", spacing=6)
    legend(p, [(lab1, [g]), (lab2, [bl])], (56, 0), "vertical", size="5.5px", glyph_w=10, spacing=0)
    txt(p, 4 if col == 0 else 15, 148, "atmosphere", base="bottom")
    txt(p, 195 if col == 0 else 772, 286, tag, size="13px", align="left")
    grid[0][col] = p

p = make(0, 2, (138, 390), CO2_T, Y_LABELS[0])
p.extra_y_ranges = {"dg": Range1d(6, 186)}
ln(p, xc, c_co2_sei, CYAN, 0.7, alpha=0.85)
p.scatter(x=c_dg_x, y=c_dg_y, size=3.2, color=MAGENTA, y_range_name="dg")
e1 = ln(p, [], [], CYAN, 1.2, "2 2")
e2 = ln(p, [], [], GRAY, 1.0)
e3 = ln(p, [], [], GREEN, 1.2, "4 2")
e4 = ln(p, [], [], BLUE, 1.2, "4 2")
legend(p, [("SEI++V6", [e1]), ("D2-L", [e3])], (3, 8), "horizontal", size="5.5px", label_w=36)
legend(p, [("D1-L", [e2]), ("D2-P", [e4])], (3, 1), "horizontal", size="5.5px", label_w=36)
txt(p, 0.1, 141, "atmosphere", base="bottom")
txt(p, 4.78, 302, "(c)", size="13px", align="left")
txt(p, 0.55, 349, "\u0394G-IG (ppm)", size="6.5px", color=MAGENTA)
for t in dg_ticks:
    txt(p, 0.06, t, str(t), size="6px", color=MAGENTA, y_range_name="dg")
grid[0][2] = p

# ---- row 1: d13CO2 ----
p = make(1, 0, (-7.6, -5.97), [-7.5, -7.0, -6.5, -6.0], Y_LABELS[1])
ln(p, xa, a_d13co2_c1, GRAY, 1.0)
ln(p, xa, a_d13co2_sei, CYAN, 1.2, "2 2")
ln(p, xa_d2, a_d13co2_data, RED, 2.2, alpha=0.85)
ln(p, xa, a_d13co2_c2, BLUE, 1.2, "4 2")
grid[1][0] = p

p = make(1, 1, (-7.6, -5.97), [-7.5, -7.0, -6.5, -6.0], Y_LABELS[1])
ln(p, xb, b_d13co2_d1, GRAY, 1.0)
ln(p, xb, b_d13co2_sei, CYAN, 1.1, "2 1")
ln(p, xb, b_d13co2_d2, BLUE, 1.1)
ln(p, xb_d2a, b_d13co2_data_a, RED, 1.6)
ln(p, xb_d2b, b_d13co2_data_b, RED, 1.6)
grid[1][1] = p

p = make(1, 2, (-8.6, -4.95), [-8.5, -8.0, -7.5, -7.0, -6.5, -6.0, -5.5, -5.0], Y_LABELS[1])
ln(p, xc, c_d13co2_sei, CYAN, 0.9, alpha=0.85)
ln(p, xc, c_d13co2_d2p, BLUE, 0.9, alpha=0.55)
ln(p, xc3, c_d13co2_d1l, GRAY, 0.9, alpha=0.8)
ln(p, xc3, c_d13co2_d2l, GREEN, 0.9, alpha=0.7)
grid[1][2] = p

# ---- row 2: wider tropical surface / G-IG ----
for col, (xx, sei, m1, m2, xd, dat) in enumerate([
        (xa, a_surf_sei, a_surf_c1, a_surf_c2, xa_d3, a_surf_data),
        (xb, b_surf_sei, b_surf_d1, b_surf_d2, xb_d3, b_surf_data)]):
    p = make(2, col, (1.35, 3.11), [1.5, 2.0, 2.5, 3.0], Y_LABELS[2])
    ln(p, xx, m1, GRAY, 1.0)
    ln(p, xx, sei, CYAN, 1.2, "2 2")
    ln(p, xd, dat, RED, 2.2 if col == 0 else 1.6)
    ln(p, xx, m2, BLUE, 1.2, "4 2" if col == 0 else "solid")
    txt(p, 2 if col == 0 else 8, 1.69, "wider tropical surface")
    grid[2][col] = p

p = make(2, 2, (-0.06, 1.06), [0.0, 0.3, 0.6, 0.9], "\u0394G-IG (\u2030)")
p.scatter(x=c_cyn_x, y=c_cyn_y, size=3.0, color=CYAN)
p.scatter(x=c_yel_x, y=c_yel_y, size=3.0, color=YELLOW)
p.scatter(x=c_grn_x, y=c_grn_y, size=3.0, color=GREEN)
p.scatter(x=c_red_x, y=c_red_y, size=3.0, color=RED)
p.scatter(x=c_blue_x, y=c_blue_y, size=3.0, color=BLUE)
txt(p, 0.08, 0.93, "deep Indo-Pacific")
grid[2][2] = p

# ---- row 3: deep Indo-Pacific ----
for col, (xx, sei, m1, m2, dat) in enumerate([
        (xa, a_deep_sei, a_deep_c1, a_deep_c2, a_deep_data),
        (xb, b_deep_sei, b_deep_d1, b_deep_d2, b_deep_data)]):
    p = make(3, col, (-0.8, 1.02), [-0.5, 0.0, 0.5], Y_LABELS[3])
    ln(p, xx, m1, GRAY, 1.0)
    ln(p, xx, dat, RED if col == 0 else PINK, 2.4 if col == 0 else 2.0, alpha=1.0 if col == 0 else 0.8)
    ln(p, xx, m2, BLUE, 1.2, "4 2" if col == 0 else "solid")
    ln(p, xx, sei, CYAN, 1.2, "2 2")
    txt(p, 3 if col == 0 else 12, 0.69, "deep Indo-Pacific")
    grid[3][col] = p

p = make(3, 2, (-1.28, 1.78), [-1.0, -0.5, 0.0, 0.5, 1.0, 1.5], Y_LABELS[3])
ln(p, xc, c_deep_odp, PINK, 1.3, alpha=0.7)
ln(p, xc, c_deep_d2p, BLUE, 0.9, alpha=0.7)
ln(p, xc3, c_deep_stack, YELLOW, 1.3, alpha=0.9)
ln(p, xc3, c_deep_d1l, GRAY, 0.8, alpha=0.8)
ln(p, xc3, c_deep_d2l, GREEN, 0.9, alpha=0.8)
ln(p, xc, c_deep_sei, CYAN, 1.1, "2 1")
ey = ln(p, [], [], YELLOW, 3)
er = ln(p, [], [], PINK, 3)
legend(p, [("deep Pacific data stack", [ey]), ("deep Pacific data ODP846", [er])], "bottom_right",
       "vertical", size="5.5px", glyph_w=9, spacing=0)
txt(p, 0.08, 1.2, "deep Indo-Pacific")
grid[3][2] = p

# ---- row 4: Delta_cor ----
p = make(4, 0, (-2.1, 2.3), [-2, -1, 0, 1, 2], Y_LABELS[4])
p.add_layout(Span(location=cor_zero, dimension="width", line_color="black", line_dash="4 3", line_width=0.8))
ln(p, xa_f, a_cor, BLUE, 1.2)
txt(p, 105, 1.45, "source", align="center")
txt(p, 95, -1.45, "sink", align="center")
grid[4][0] = p

p = make(4, 1, (-0.11, 0.115), [-0.1, -0.05, 0, 0.05, 0.1], Y_LABELS[4], COR_OV)
p.add_layout(Span(location=cor_zero, dimension="width", line_color="black", line_dash="4 3", line_width=0.8))
ln(p, xb, b_cor, BLUE, 1.2)
txt(p, 400, 0.072, "source", align="center")
txt(p, 300, -0.075, "sink", align="center")
grid[4][1] = p

p = make(4, 2, (-0.11, 0.115), [-0.1, -0.05, 0, 0.05, 0.1], Y_LABELS[4], COR_OV)
ln(p, xc, c_cor, BLUE, 0.8, alpha=0.6)
ln(p, xc3, c_cor_l, GREEN, 0.8, alpha=0.5)
p.add_layout(Span(location=cor_zero, dimension="width", line_color="black", line_dash="4 3", line_width=0.8))
txt(p, 2.5, 0.072, "source", align="center")
txt(p, 1.9, -0.075, "sink", align="center")
grid[4][2] = p

# ---- rows 5, 6: rock and volcanic ----
for col, (xx, rk, cv) in enumerate([(xa_f, a_rock, a_cv), (xb, b_rock, b_cv), (xc, c_rock, c_cv)]):
    lw, al = (1.3, 1.0) if col < 2 else (0.8, 0.6)
    p = make(5, col, (-11.3, 10.9), [-10, -5, 0, 5, 10], Y_LABELS[5])
    if col == 2:
        ln(p, xc3, c_rock_l, GREEN, 0.8, alpha=0.5)
    ln(p, xx, rk, BLUE, lw, alpha=al)
    s = ln(p, [xr[col].start, xr[col].end], [rock_std, rock_std], ORANGE, 1.3, "6 3")
    legend(p, [("std", [s])], (30 if col < 2 else 2, 6), size="7px", glyph_w=12)
    grid[5][col] = p

    p = make(6, col, (-16.4, 6.4), [-15, -10, -5, 0, 5], Y_LABELS[6])
    if col == 2:
        ln(p, xc3, c_cv_l, GREEN, 0.8, alpha=0.5)
    ln(p, xx, cv, BLUE, lw, alpha=al)
    s = ln(p, [xr[col].start, xr[col].end], [cv_std, cv_std], DRED, 1.3, "6 3")
    legend(p, [("std", [s])], (30 if col < 2 else 2, 5), size="7px", glyph_w=12)
    grid[6][col] = p

layout = gridplot(grid, toolbar_location=None)
open("out.html", "w").write(file_html(layout, INLINE, "carbon cycle panels"))
